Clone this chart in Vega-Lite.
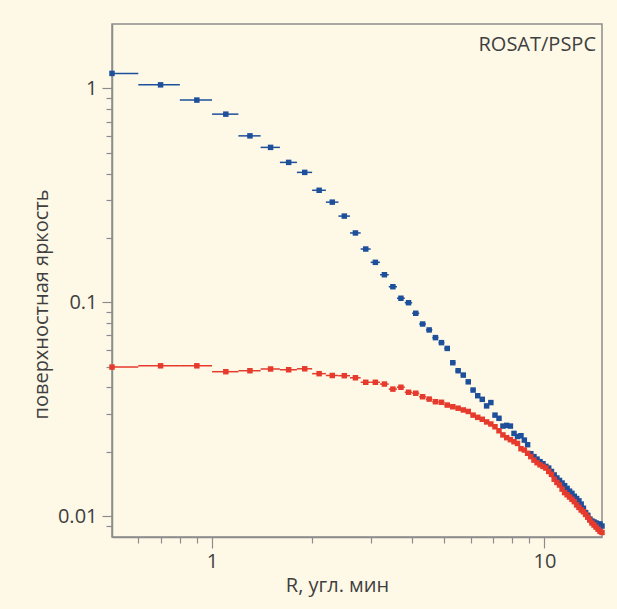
{
  "$schema": "https://vega.github.io/schema/vega-lite/v6.json",
  "width": 490,
  "height": 513,
  "autosize": {"type": "none"},
  "padding": {"left": 112, "top": 24, "right": 15, "bottom": 72},
  "background": "#FEF9E7",
  "config": {
    "font": "Open Sans",
    "view": {"stroke": "#8c8c8c", "strokeWidth": 1.5},
    "axis": {
      "domainColor": "#8c8c8c",
      "domainWidth": 1.5,
      "tickColor": "#8c8c8c",
      "tickWidth": 1.2,
      "grid": false,
      "labelFont": "Open Sans",
      "labelFontSize": 20,
      "labelColor": "#3f3f3f",
      "titleFont": "Open Sans",
      "titleFontSize": 20,
      "titleFontWeight": "normal",
      "titleColor": "#3f3f3f"
    }
  },
  "data": {
    "values": [
      {"series": "b", "r": 0.5, "lo": 0.4, "hi": 0.6, "s": 1.175},
      {"series": "b", "r": 0.7, "lo": 0.6, "hi": 0.8, "s": 1.039},
      {"series": "b", "r": 0.9, "lo": 0.8, "hi": 1.0, "s": 0.882},
      {"series": "b", "r": 1.1, "lo": 1.0, "hi": 1.2, "s": 0.758},
      {"series": "b", "r": 1.3, "lo": 1.2, "hi": 1.4, "s": 0.600},
      {"series": "b", "r": 1.5, "lo": 1.4, "hi": 1.6, "s": 0.530},
      {"series": "b", "r": 1.7, "lo": 1.6, "hi": 1.8, "s": 0.451},
      {"series": "b", "r": 1.9, "lo": 1.8, "hi": 2.0, "s": 0.405},
      {"series": "b", "r": 2.1, "lo": 2.0, "hi": 2.2, "s": 0.334},
      {"series": "b", "r": 2.3, "lo": 2.2, "hi": 2.4, "s": 0.294},
      {"series": "b", "r": 2.5, "lo": 2.4, "hi": 2.6, "s": 0.253},
      {"series": "b", "r": 2.7, "lo": 2.6, "hi": 2.8, "s": 0.211},
      {"series": "b", "r": 2.9, "lo": 2.8, "hi": 3.0, "s": 0.1775},
      {"series": "b", "r": 3.1, "lo": 3.0, "hi": 3.2, "s": 0.1538},
      {"series": "b", "r": 3.3, "lo": 3.2, "hi": 3.4, "s": 0.1346},
      {"series": "b", "r": 3.5, "lo": 3.4, "hi": 3.6, "s": 0.1183},
      {"series": "b", "r": 3.7, "lo": 3.6, "hi": 3.8, "s": 0.1045},
      {"series": "b", "r": 3.9, "lo": 3.8, "hi": 4.0, "s": 0.0996},
      {"series": "b", "r": 4.1, "lo": 4.0, "hi": 4.2, "s": 0.0889},
      {"series": "b", "r": 4.3, "lo": 4.2, "hi": 4.4, "s": 0.0792},
      {"series": "b", "r": 4.5, "lo": 4.4, "hi": 4.6, "s": 0.0743},
      {"series": "b", "r": 4.7, "lo": 4.6, "hi": 4.8, "s": 0.0684},
      {"series": "b", "r": 4.9, "lo": 4.8, "hi": 5.0, "s": 0.0648},
      {"series": "b", "r": 5.1, "lo": 5.0, "hi": 5.2, "s": 0.0609},
      {"series": "b", "r": 5.3, "lo": 5.2, "hi": 5.4, "s": 0.0522},
      {"series": "b", "r": 5.5, "lo": 5.4, "hi": 5.6, "s": 0.0479},
      {"series": "b", "r": 5.7, "lo": 5.6, "hi": 5.8, "s": 0.0457},
      {"series": "b", "r": 5.9, "lo": 5.8, "hi": 6.0, "s": 0.0425},
      {"series": "b", "r": 6.1, "lo": 6.0, "hi": 6.2, "s": 0.0389},
      {"series": "b", "r": 6.3, "lo": 6.2, "hi": 6.4, "s": 0.0366},
      {"series": "b", "r": 6.5, "lo": 6.4, "hi": 6.6, "s": 0.0352},
      {"series": "b", "r": 6.7, "lo": 6.6, "hi": 6.8, "s": 0.0328},
      {"series": "b", "r": 6.9, "lo": 6.8, "hi": 7.0, "s": 0.0340},
      {"series": "b", "r": 7.1, "lo": 7.0, "hi": 7.2, "s": 0.0297},
      {"series": "b", "r": 7.3, "lo": 7.2, "hi": 7.4, "s": 0.0287},
      {"series": "b", "r": 7.5, "lo": 7.4, "hi": 7.6, "s": 0.0264},
      {"series": "b", "r": 7.7, "lo": 7.6, "hi": 7.8, "s": 0.0266},
      {"series": "b", "r": 7.9, "lo": 7.8, "hi": 8.0, "s": 0.0264},
      {"series": "b", "r": 8.1, "lo": 8.0, "hi": 8.2, "s": 0.0244},
      {"series": "b", "r": 8.3, "lo": 8.2, "hi": 8.4, "s": 0.0236},
      {"series": "b", "r": 8.5, "lo": 8.4, "hi": 8.6, "s": 0.0238},
      {"series": "b", "r": 8.7, "lo": 8.6, "hi": 8.8, "s": 0.0227},
      {"series": "b", "r": 8.9, "lo": 8.8, "hi": 9.0, "s": 0.0216},
      {"series": "b", "r": 9.1, "lo": 9.0, "hi": 9.2, "s": 0.0196},
      {"series": "b", "r": 9.3, "lo": 9.2, "hi": 9.4, "s": 0.0190},
      {"series": "b", "r": 9.5, "lo": 9.4, "hi": 9.6, "s": 0.0185},
      {"series": "b", "r": 9.7, "lo": 9.6, "hi": 9.8, "s": 0.0180},
      {"series": "b", "r": 9.9, "lo": 9.8, "hi": 10.0, "s": 0.0176},
      {"series": "b", "r": 10.1, "lo": 10.0, "hi": 10.2, "s": 0.0171},
      {"series": "b", "r": 10.3, "lo": 10.2, "hi": 10.4, "s": 0.0168},
      {"series": "b", "r": 10.5, "lo": 10.4, "hi": 10.6, "s": 0.0162},
      {"series": "b", "r": 10.7, "lo": 10.6, "hi": 10.8, "s": 0.0156},
      {"series": "b", "r": 10.9, "lo": 10.8, "hi": 11.0, "s": 0.0151},
      {"series": "b", "r": 11.1, "lo": 11.0, "hi": 11.2, "s": 0.0147},
      {"series": "b", "r": 11.3, "lo": 11.2, "hi": 11.4, "s": 0.0143},
      {"series": "b", "r": 11.5, "lo": 11.4, "hi": 11.6, "s": 0.0139},
      {"series": "b", "r": 11.7, "lo": 11.6, "hi": 11.8, "s": 0.0135},
      {"series": "b", "r": 11.9, "lo": 11.8, "hi": 12.0, "s": 0.0131},
      {"series": "b", "r": 12.1, "lo": 12.0, "hi": 12.2, "s": 0.0128},
      {"series": "b", "r": 12.3, "lo": 12.2, "hi": 12.4, "s": 0.0124},
      {"series": "b", "r": 12.5, "lo": 12.4, "hi": 12.6, "s": 0.0121},
      {"series": "b", "r": 12.7, "lo": 12.6, "hi": 12.8, "s": 0.0118},
      {"series": "b", "r": 12.9, "lo": 12.8, "hi": 13.0, "s": 0.0114},
      {"series": "b", "r": 13.1, "lo": 13.0, "hi": 13.2, "s": 0.0109},
      {"series": "b", "r": 13.3, "lo": 13.2, "hi": 13.4, "s": 0.0104},
      {"series": "b", "r": 13.5, "lo": 13.4, "hi": 13.6, "s": 0.0101},
      {"series": "b", "r": 13.7, "lo": 13.6, "hi": 13.8, "s": 0.0097},
      {"series": "b", "r": 13.9, "lo": 13.8, "hi": 14.0, "s": 0.0095},
      {"series": "b", "r": 14.1, "lo": 14.0, "hi": 14.2, "s": 0.0094},
      {"series": "b", "r": 14.3, "lo": 14.2, "hi": 14.4, "s": 0.0093},
      {"series": "b", "r": 14.5, "lo": 14.4, "hi": 14.6, "s": 0.0092},
      {"series": "b", "r": 14.7, "lo": 14.6, "hi": 14.8, "s": 0.0092},
      {"series": "b", "r": 14.9, "lo": 14.8, "hi": 15.0, "s": 0.0090},
      {"series": "r", "r": 0.5, "lo": 0.4, "hi": 0.6, "s": 0.0498},
      {"series": "r", "r": 0.7, "lo": 0.6, "hi": 0.8, "s": 0.0505},
      {"series": "r", "r": 0.9, "lo": 0.8, "hi": 1.0, "s": 0.0505},
      {"series": "r", "r": 1.1, "lo": 1.0, "hi": 1.2, "s": 0.0474},
      {"series": "r", "r": 1.3, "lo": 1.2, "hi": 1.4, "s": 0.0479},
      {"series": "r", "r": 1.5, "lo": 1.4, "hi": 1.6, "s": 0.0488},
      {"series": "r", "r": 1.7, "lo": 1.6, "hi": 1.8, "s": 0.0484},
      {"series": "r", "r": 1.9, "lo": 1.8, "hi": 2.0, "s": 0.0489},
      {"series": "r", "r": 2.1, "lo": 2.0, "hi": 2.2, "s": 0.0464},
      {"series": "r", "r": 2.3, "lo": 2.2, "hi": 2.4, "s": 0.0455},
      {"series": "r", "r": 2.5, "lo": 2.4, "hi": 2.6, "s": 0.0454},
      {"series": "r", "r": 2.7, "lo": 2.6, "hi": 2.8, "s": 0.0444},
      {"series": "r", "r": 2.9, "lo": 2.8, "hi": 3.0, "s": 0.0423},
      {"series": "r", "r": 3.1, "lo": 3.0, "hi": 3.2, "s": 0.0423},
      {"series": "r", "r": 3.3, "lo": 3.2, "hi": 3.4, "s": 0.0415},
      {"series": "r", "r": 3.5, "lo": 3.4, "hi": 3.6, "s": 0.0393},
      {"series": "r", "r": 3.7, "lo": 3.6, "hi": 3.8, "s": 0.0401},
      {"series": "r", "r": 3.9, "lo": 3.8, "hi": 4.0, "s": 0.0380},
      {"series": "r", "r": 4.1, "lo": 4.0, "hi": 4.2, "s": 0.0376},
      {"series": "r", "r": 4.3, "lo": 4.2, "hi": 4.4, "s": 0.0362},
      {"series": "r", "r": 4.5, "lo": 4.4, "hi": 4.6, "s": 0.0353},
      {"series": "r", "r": 4.7, "lo": 4.6, "hi": 4.8, "s": 0.0343},
      {"series": "r", "r": 4.9, "lo": 4.8, "hi": 5.0, "s": 0.0341},
      {"series": "r", "r": 5.1, "lo": 5.0, "hi": 5.2, "s": 0.0331},
      {"series": "r", "r": 5.3, "lo": 5.2, "hi": 5.4, "s": 0.0325},
      {"series": "r", "r": 5.5, "lo": 5.4, "hi": 5.6, "s": 0.0320},
      {"series": "r", "r": 5.7, "lo": 5.6, "hi": 5.8, "s": 0.0314},
      {"series": "r", "r": 5.9, "lo": 5.8, "hi": 6.0, "s": 0.0309},
      {"series": "r", "r": 6.1, "lo": 6.0, "hi": 6.2, "s": 0.0297},
      {"series": "r", "r": 6.3, "lo": 6.2, "hi": 6.4, "s": 0.0290},
      {"series": "r", "r": 6.5, "lo": 6.4, "hi": 6.6, "s": 0.0284},
      {"series": "r", "r": 6.7, "lo": 6.6, "hi": 6.8, "s": 0.0276},
      {"series": "r", "r": 6.9, "lo": 6.8, "hi": 7.0, "s": 0.0270},
      {"series": "r", "r": 7.1, "lo": 7.0, "hi": 7.2, "s": 0.0262},
      {"series": "r", "r": 7.3, "lo": 7.2, "hi": 7.4, "s": 0.0251},
      {"series": "r", "r": 7.5, "lo": 7.4, "hi": 7.6, "s": 0.0240},
      {"series": "r", "r": 7.7, "lo": 7.6, "hi": 7.8, "s": 0.0233},
      {"series": "r", "r": 7.9, "lo": 7.8, "hi": 8.0, "s": 0.0228},
      {"series": "r", "r": 8.1, "lo": 8.0, "hi": 8.2, "s": 0.0223},
      {"series": "r", "r": 8.3, "lo": 8.2, "hi": 8.4, "s": 0.0219},
      {"series": "r", "r": 8.5, "lo": 8.4, "hi": 8.6, "s": 0.0207},
      {"series": "r", "r": 8.7, "lo": 8.6, "hi": 8.8, "s": 0.0204},
      {"series": "r", "r": 8.9, "lo": 8.8, "hi": 9.0, "s": 0.0197},
      {"series": "r", "r": 9.1, "lo": 9.0, "hi": 9.2, "s": 0.0190},
      {"series": "r", "r": 9.3, "lo": 9.2, "hi": 9.4, "s": 0.0183},
      {"series": "r", "r": 9.5, "lo": 9.4, "hi": 9.6, "s": 0.0178},
      {"series": "r", "r": 9.7, "lo": 9.6, "hi": 9.8, "s": 0.0174},
      {"series": "r", "r": 9.9, "lo": 9.8, "hi": 10.0, "s": 0.0171},
      {"series": "r", "r": 10.1, "lo": 10.0, "hi": 10.2, "s": 0.0168},
      {"series": "r", "r": 10.3, "lo": 10.2, "hi": 10.4, "s": 0.0162},
      {"series": "r", "r": 10.5, "lo": 10.4, "hi": 10.6, "s": 0.0157},
      {"series": "r", "r": 10.7, "lo": 10.6, "hi": 10.8, "s": 0.0149},
      {"series": "r", "r": 10.9, "lo": 10.8, "hi": 11.0, "s": 0.0144},
      {"series": "r", "r": 11.1, "lo": 11.0, "hi": 11.2, "s": 0.0140},
      {"series": "r", "r": 11.3, "lo": 11.2, "hi": 11.4, "s": 0.0134},
      {"series": "r", "r": 11.5, "lo": 11.4, "hi": 11.6, "s": 0.0129},
      {"series": "r", "r": 11.7, "lo": 11.6, "hi": 11.8, "s": 0.0126},
      {"series": "r", "r": 11.9, "lo": 11.8, "hi": 12.0, "s": 0.0123},
      {"series": "r", "r": 12.1, "lo": 12.0, "hi": 12.2, "s": 0.0120},
      {"series": "r", "r": 12.3, "lo": 12.2, "hi": 12.4, "s": 0.0117},
      {"series": "r", "r": 12.5, "lo": 12.4, "hi": 12.6, "s": 0.0113},
      {"series": "r", "r": 12.7, "lo": 12.6, "hi": 12.8, "s": 0.0110},
      {"series": "r", "r": 12.9, "lo": 12.8, "hi": 13.0, "s": 0.0107},
      {"series": "r", "r": 13.1, "lo": 13.0, "hi": 13.2, "s": 0.0105},
      {"series": "r", "r": 13.3, "lo": 13.2, "hi": 13.4, "s": 0.0102},
      {"series": "r", "r": 13.5, "lo": 13.4, "hi": 13.6, "s": 0.0099},
      {"series": "r", "r": 13.7, "lo": 13.6, "hi": 13.8, "s": 0.0096},
      {"series": "r", "r": 13.9, "lo": 13.8, "hi": 14.0, "s": 0.0093},
      {"series": "r", "r": 14.1, "lo": 14.0, "hi": 14.2, "s": 0.0091},
      {"series": "r", "r": 14.3, "lo": 14.2, "hi": 14.4, "s": 0.0089},
      {"series": "r", "r": 14.5, "lo": 14.4, "hi": 14.6, "s": 0.0087},
      {"series": "r", "r": 14.7, "lo": 14.6, "hi": 14.8, "s": 0.0085},
      {"series": "r", "r": 14.9, "lo": 14.8, "hi": 15.0, "s": 0.0084}
    ]
  },
  "layer": [
    {
      "mark": {"type": "rule", "clip": true, "strokeWidth": 1.5},
      "encoding": {
        "x": {
          "field": "lo",
          "type": "quantitative",
          "scale": {"type": "log", "domain": [0.5, 14.9], "nice": false, "zero": false},
          "axis": {
            "title": "R, угл. мин",
            "values": [0.6, 0.7, 0.8, 0.9, 1, 2, 3, 4, 5, 6, 7, 8, 9, 10],
            "labelExpr": "datum.value == 1 || datum.value == 10 ? format(datum.value, 'd') : ''",
            "tickSize": {"condition": {"test": "datum.value == 1 || datum.value == 10", "value": 11}, "value": 6},
            "labelPadding": 3,
            "titlePadding": 4,
            "titleX": 225
          }
        },
        "x2": {"field": "hi"},
        "y": {
          "field": "s",
          "type": "quantitative",
          "scale": {"type": "log", "domain": [0.008, 2], "nice": false, "zero": false},
          "axis": {
            "title": "поверхностная яркость",
            "values": [0.009, 0.01, 0.02, 0.03, 0.04, 0.05, 0.06, 0.07, 0.08, 0.09, 0.1, 0.2, 0.3, 0.4, 0.5, 0.6, 0.7, 0.8, 0.9, 1],
            "labelExpr": "datum.value == 1 ? '1' : datum.value == 0.1 ? '0.1' : datum.value == 0.01 ? '0.01' : ''",
            "tickSize": {"condition": {"test": "datum.value == 1 || datum.value == 0.1 || datum.value == 0.01", "value": 10}, "value": 6},
            "labelPadding": 5,
            "titlePadding": 6,
            "titleY": 280
          }
        },
        "color": {
          "field": "series",
          "type": "nominal",
          "scale": {"domain": ["b", "r"], "range": ["#1d4f9a", "#e53a2c"]},
          "legend": null
        }
      }
    },
    {
      "mark": {"type": "point", "shape": "square", "filled": true, "size": 30, "opacity": 1},
      "encoding": {
        "x": {"field": "r", "type": "quantitative"},
        "y": {"field": "s", "type": "quantitative"},
        "color": {"field": "series", "type": "nominal", "legend": null}
      }
    },
    {
      "data": {"values": [{"t": "ROSAT/PSPC"}]},
      "mark": {"type": "text", "align": "right", "baseline": "alphabetic", "dx": -6, "fontSize": 20, "color": "#3f3f3f", "font": "Open Sans"},
      "encoding": {
        "x": {"datum": 14.9},
        "y": {"datum": 1.5},
        "text": {"field": "t"}
      }
    }
  ]
}
